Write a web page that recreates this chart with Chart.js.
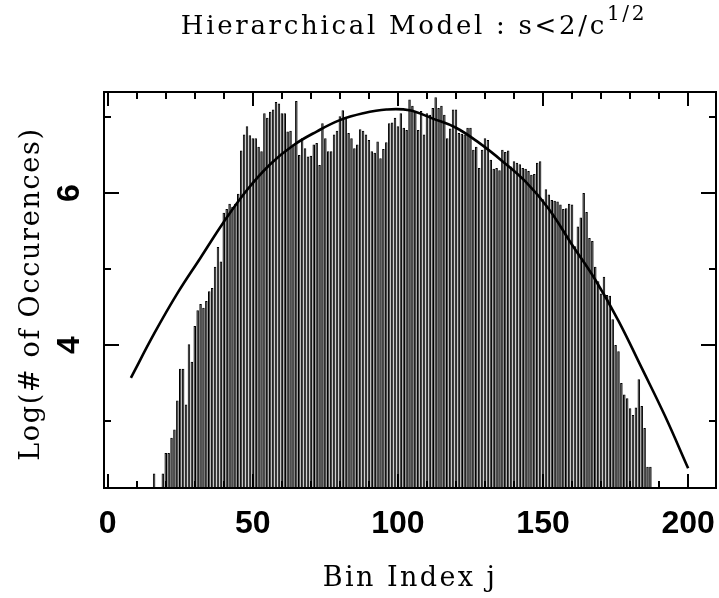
<!DOCTYPE html>
<html>
<head>
<meta charset="utf-8">
<title>Hierarchical Model</title>
<style>
  html, body { margin: 0; padding: 0; background: #fff; }
  canvas { display: block; }
</style>
</head>
<body>
<canvas id="histo" width="719" height="598"></canvas>
<script src="https://cdn.jsdelivr.net/npm/chart.js@4.4.0/dist/chart.umd.min.js"></script>
<script>
// histogram of log counts per bin, bins start at j = 16 (null = empty bin)
const firstBin = 16;
const logCounts = [
  2.31, null, null, 2.31, 2.58, 2.58, 2.78, 2.89, 3.27, 3.69,   // 16-25
  3.69, 3.22, 4.01, 3.78, 4.25, 4.46, 4.54, 4.49, 4.58, 4.71,   // 26-35
  4.75, 5.03, 5.29, 5.10, 5.74, 5.79, 5.86, 5.82, 5.86, 5.99,   // 36-45
  6.56, 6.77, 6.88, 6.76, 6.72, 6.72, 6.61, 6.55, 7.05, 6.99,   // 46-55
  7.07, 7.10, 7.20, 7.18, 7.05, 7.05, 6.81, 6.82, 6.64, 7.21,   // 56-65
  6.50, 6.72, 6.59, 6.48, 6.49, 6.64, 6.66, 6.37, 6.92, 6.72,   // 66-75
  6.55, 6.55, 6.77, 6.82, 7.01, 7.09, 6.99, 6.79, 6.72, 6.59,   // 76-85
  6.64, 6.84, 6.82, 6.77, 6.70, 6.55, 6.53, 6.68, 6.46, 6.58,   // 86-95
  6.67, 6.92, 6.93, 6.99, 6.88, 7.05, 6.86, 6.83, 7.23, 7.15,   // 96-105
  7.08, 6.83, 7.08, 6.77, 7.05, 7.03, 7.12, 7.26, 7.12, 7.15,   // 106-115
  7.03, 6.72, 6.85, 7.10, 7.10, 6.79, 6.78, 6.77, 6.86, 6.86,   // 116-125
  6.57, 6.61, 6.33, 6.57, 6.72, 6.70, 6.44, 6.32, 6.33, 6.30,   // 126-135
  6.57, 6.54, 6.56, 6.35, 6.42, 6.40, 6.38, 6.33, 6.32, 6.29,   // 136-145
  6.24, 6.25, 6.40, 6.42, 5.92, 6.05, 5.98, 5.91, 5.90, 5.89,   // 146-155
  5.85, 5.79, 5.80, 5.86, 5.85, 5.30, 5.56, 5.68, 6.00, 5.75,   // 156-165
  5.41, 5.37, 5.03, 4.84, 4.68, 4.90, 4.66, 4.65, 4.34, 4.00,   // 166-175
  3.92, 3.50, 3.35, 3.30, 3.17, 3.08, 3.18, 3.55, 3.20, 2.91,   // 176-185
  2.40, 2.40                                                    // 186-187
];
const binIndex = logCounts.map((_, i) => firstBin + i);

// fitted curve, sampled along its length
const curveX = [8, 16, 24, 32, 40, 48, 56, 64, 72, 80, 88, 96, 104,
                112, 120, 128, 136, 144, 152, 160, 168, 176, 184, 192, 200];
const curveY = [3.57, 4.15, 4.68, 5.15, 5.62, 6.04, 6.38, 6.63, 6.81, 6.96, 7.05, 7.10, 7.09,
                6.98, 6.86, 6.66, 6.42, 6.15, 5.79, 5.32, 4.86, 4.32, 3.70, 3.07, 2.38];

const xMajorTicks = [0, 50, 100, 150, 200];
const xTickLabels = ['0', '50', '100', '150', '200'];
const yMajorTicks = [4, 6];
const yTickLabels = ['4', '6'];

const titleText = 'Hierarchical Model : s<2/c';
const titleSup = '1/2';
const xTitle = 'Bin Index j';
const yTitle = 'Log(# of Occurences)';

// frame, inward ticks and all text, drawn off the chart's own scales
const pgFrame = {
  id: 'pgFrame',
  afterDatasetsDraw(chart) {
    const { ctx, chartArea: a, scales: { x, y } } = chart;
    ctx.save();
    ctx.strokeStyle = '#000';
    ctx.fillStyle = '#000';
    ctx.lineWidth = 2;
    ctx.lineCap = 'butt';

    ctx.strokeRect(a.left, a.top, a.right - a.left, a.bottom - a.top);

    ctx.beginPath();
    for (let v = 0; v <= 200; v += 10) {
      const px = Math.round(x.getPixelForValue(v));
      const len = v % 50 === 0 ? 14 : 7;
      ctx.moveTo(px, a.bottom); ctx.lineTo(px, a.bottom - len);
      ctx.moveTo(px, a.top); ctx.lineTo(px, a.top + len);
    }
    for (let v = 3; v <= 7; v += 1) {
      const py = Math.round(y.getPixelForValue(v));
      const len = v % 2 === 0 ? 15 : 7;
      ctx.moveTo(a.left, py); ctx.lineTo(a.left + len, py);
      ctx.moveTo(a.right, py); ctx.lineTo(a.right - len, py);
    }
    ctx.stroke();

    // numeric labels
    ctx.font = 'bold 32px "Liberation Sans"';
    ctx.textAlign = 'center';
    ctx.textBaseline = 'alphabetic';
    xMajorTicks.forEach((v, i) => {
      ctx.fillText(xTickLabels[i], x.getPixelForValue(v), a.bottom + 45);
    });
    yMajorTicks.forEach((v, i) => {
      ctx.save();
      ctx.translate(a.left - 34, y.getPixelForValue(v));
      ctx.rotate(-Math.PI / 2);
      ctx.textBaseline = 'middle';
      ctx.fillText(yTickLabels[i], 0, 0);
      ctx.restore();
    });

    // titles
    const cx = (a.left + a.right) / 2;
    ctx.font = '26px "DejaVu Serif"';
    ctx.letterSpacing = '2.7px';
    ctx.textBaseline = 'alphabetic';
    const mainW = ctx.measureText(titleText).width;
    ctx.font = '20px "DejaVu Serif"';
    const supW = ctx.measureText(titleSup).width;
    const startX = cx + 4 - (mainW + supW) / 2;
    ctx.textAlign = 'left';
    ctx.font = '26px "DejaVu Serif"';
    ctx.fillText(titleText, startX, 34);
    ctx.font = '20px "DejaVu Serif"';
    ctx.fillText(titleSup, startX + mainW, 20);

    ctx.font = '27px "DejaVu Serif"';
    ctx.letterSpacing = '2.4px';
    ctx.textAlign = 'center';
    ctx.fillText(xTitle, cx, a.bottom + 98);

    ctx.letterSpacing = '1.7px';
    ctx.save();
    ctx.translate(39, (a.top + a.bottom) / 2 + 4);
    ctx.rotate(-Math.PI / 2);
    ctx.fillText(yTitle, 0, 0);
    ctx.restore();

    ctx.restore();
  }
};

new Chart(document.getElementById('histo'), {
  type: 'bar',
  data: {
    datasets: [
      {
        type: 'line',
        data: curveX.map((v, i) => ({ x: v, y: curveY[i] })),
        borderColor: '#000',
        borderWidth: 2.6,
        pointRadius: 0,
        tension: 0.4,
        fill: false,
        order: 1
      },
      {
        type: 'bar',
        data: binIndex.map((b, i) => ({ x: b, y: logCounts[i] })),
        backgroundColor: '#1a1a1a',
        borderColor: '#000',
        borderWidth: 1,
        barPercentage: 0.87,
        categoryPercentage: 1,
        order: 2
      }
    ]
  },
  options: {
    responsive: false,
    animation: false,
    devicePixelRatio: 1,
    layout: { padding: { left: 104, top: 92, right: 3, bottom: 110 } },
    plugins: { legend: { display: false }, tooltip: { enabled: false } },
    scales: {
      x: { type: 'linear', offset: false, min: -1.27, max: 209.6, display: false },
      y: { type: 'linear', min: 2.12, max: 7.33, display: false }
    }
  },
  plugins: [pgFrame]
});
</script>
</body>
</html>
